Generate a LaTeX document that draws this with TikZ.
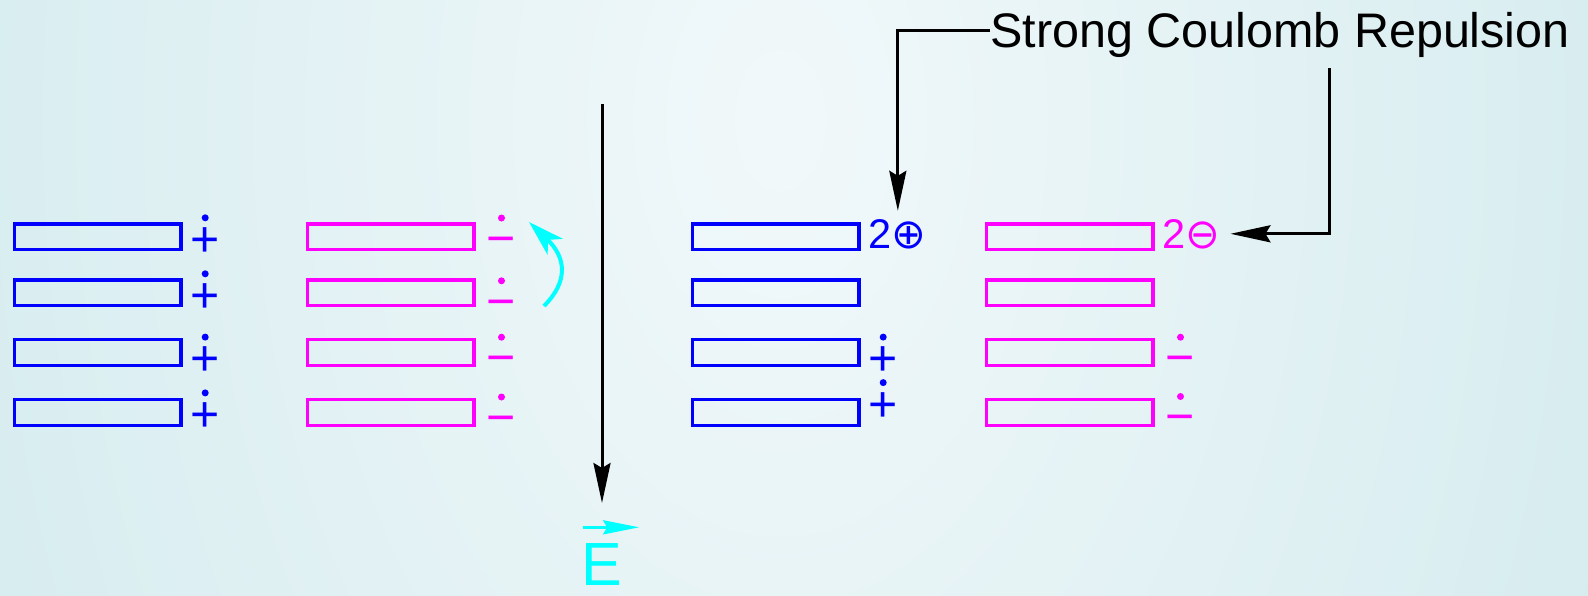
\documentclass[tikz,border=0pt]{standalone}
\usepackage{fontspec}
\setmainfont{Liberation Sans}
\newfontfamily\circfont{DejaVu Sans}
\usetikzlibrary{positioning, arrows.meta}
\definecolor{Hole}{RGB}{0,0,255}
\definecolor{Elec}{RGB}{255,0,255}
\definecolor{Field}{RGB}{0,255,255}
\pgfdeclareradialshading{backglow}{\pgfpoint{0bp}{0bp}}{rgb(0bp)=(0.945,0.973,0.980); rgb(50bp)=(0.749,0.886,0.902); rgb(100bp)=(0.749,0.886,0.902)}
\tikzstyle{Arrow} = [line width=3pt, -{Stealth[length=40pt,width=17pt,inset=5pt]}]
\tikzstyle{Curl} = [Field, line width=4pt, -{Stealth[length=36pt,width=22pt,inset=10pt]}]
\tikzstyle{Vec} = [Field, line width=3pt, -{Stealth[length=36pt,width=14pt,inset=4pt]}]
\tikzstyle{Donor} = [draw=Hole, line width=3.3pt, minimum width=166.7pt, minimum height=25.7pt, inner sep=0pt]
\tikzstyle{Acceptor} = [draw=Elec, line width=3.3pt, minimum width=166.7pt, minimum height=25.7pt, inner sep=0pt]
\tikzstyle{Charge} = [inner sep=0pt, font=\fontsize{50}{60}\selectfont]
\tikzstyle{Double} = [inner sep=0pt, font=\fontsize{41.5}{48}\selectfont]

\begin{document}
\begin{tikzpicture}[x=1pt, y=-1pt]
    \useasboundingbox (0,0) rectangle (1588,595);
    \begin{scope}
        \clip (0,0) rectangle (1588,595);
        \shade[shading=backglow] (-40,-1160) rectangle (1600,1400);
    \end{scope}
    % neutral stack (left)
    \node [Donor] (1) at (97.7,236.8) {};
    \node [Donor, below =27pt of 1] (2) {};
    \node [Donor, below =30.7pt of 2] (3) {};
    \node [Donor, below =31pt of 3] (4) {};
    \node [Acceptor, right =123pt of 1] (5) {};
    \node [Acceptor, right =123pt of 2] (6) {};
    \node [Acceptor, right =123pt of 3] (7) {};
    \node [Acceptor, right =123pt of 4] (8) {};
    % stack under field (right)
    \node [Donor, right =215pt of 5] (9) {};
    \node [Donor, right =215pt of 6] (10) {};
    \node [Donor, right =215pt of 7] (11) {};
    \node [Donor, right =215pt of 8] (12) {};
    \node [Acceptor, right =124pt of 9] (13) {};
    \node [Acceptor, right =124pt of 10] (14) {};
    \node [Acceptor, right =124pt of 11] (15) {};
    \node [Acceptor, right =124pt of 12] (16) {};
    % radical charges
    \node [Charge, Hole, right =7.7pt of 1, yshift=-5pt] (17) {+};
    \node [Charge, Hole, right =7.7pt of 2, yshift=-5pt] (18) {+};
    \node [Charge, Hole, right =7.7pt of 3, yshift=-8.6pt] (19) {+};
    \node [Charge, Hole, right =7.7pt of 4, yshift=-4.4pt] (20) {+};
    \node [Charge, Elec, right =11pt of 5, yshift=-9.2pt] (21) {−};
    \node [Charge, Elec, right =11pt of 6, yshift=-16pt] (22) {−};
    \node [Charge, Elec, right =11pt of 7, yshift=-12.7pt] (23) {−};
    \node [Charge, Elec, right =11pt of 8, yshift=-12.5pt] (24) {−};
    \node [Charge, Hole, right =7.7pt of 11, yshift=-8.6pt] (25) {+};
    \node [Charge, Hole, right =7.7pt of 12, yshift=5.9pt] (26) {+};
    \node [Charge, Elec, right =11pt of 15, yshift=-12.7pt] (27) {−};
    \node [Charge, Elec, right =11pt of 16, yshift=-12pt] (28) {−};
    \foreach \q in {17,18,19,20,25,26}
        \fill[Hole] ([yshift=24pt]\q.center) circle (3.5pt);
    \foreach \q in {21,22,23,24,27,28}
        \fill[Elec] ([yshift=28pt]\q.center) circle (3.5pt);
    \node [Double, Hole, right =8pt of 9, yshift=3pt] (29) {2{\circfont ⊕}};
    \node [Double, Elec, right =7.5pt of 13, yshift=3pt] (30) {2{\circfont ⊖}};
    % label and its arrows
    \node [anchor=base west, inner sep=0pt, font=\fontsize{48.5}{58}\selectfont] (31) at (990,47.6) {Strong Coulomb Repulsion};
    \coordinate (32) at (1329,68);
    \draw[Arrow] ([yshift=5pt]31.west) -| ([yshift=8pt]29.north);
    \draw[Arrow, shorten >=10pt] (32) |- (30.east);
    % field
    \coordinate (33) at (602,104);
    \coordinate (34) at (602,503);
    \draw[Arrow] (33) -- (34);
    \node [inner sep=0pt, Field, font=\fontsize{61}{72}\selectfont] (35) at (601.6,565) {E};
    \draw[Vec] ([xshift=2pt,yshift=16.5pt]35.north west) -- ([xshift=17pt,yshift=16.5pt]35.north east);
    % hop
    \coordinate (36) at (544,306);
    \coordinate (37) at (529,222);
    \draw[Curl] (36) .. controls (568,282) and (567,258) .. (37);
\end{tikzpicture}
\end{document}
